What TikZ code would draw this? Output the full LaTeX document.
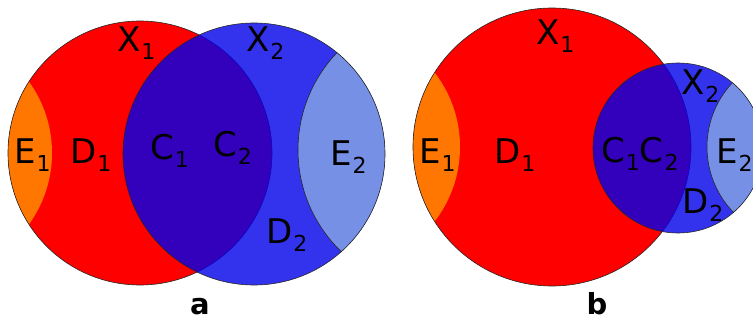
\documentclass[tikz,border=0pt]{standalone}
\usepackage{fontspec}
\setmainfont{DejaVu Sans}
\usetikzlibrary{positioning}
\definecolor{setred}{RGB}{255,0,0}
\definecolor{setorange}{RGB}{255,119,0}
\definecolor{setblue}{RGB}{0,0,234}
\definecolor{setpale}{RGB}{117,144,229}
\newcommand{\sublbl}[2]{#1\kern1pt\raisebox{-8pt}{\fontsize{22}{22}\selectfont #2}}

\begin{document}
\begin{tikzpicture}[x=1pt, y=-1pt,
        rim/.style={draw=black!85, line width=0.6pt},
        lab/.style={anchor=base west, inner sep=0pt, font=\fontsize{34}{40}\selectfont},
        caption/.style={anchor=base, inner sep=0pt, font=\fontsize{29}{34}\selectfont\bfseries}
    ]
    \useasboundingbox (0,0) rectangle (753,321);
    \clip (0,0) rectangle (753,321);

    % panel a
    \fill[setred] (140,153) circle (132pt);
    \begin{scope}
        \clip (140,153) circle (132pt);
        \fill[setorange] (-70,153) circle (122pt);
    \end{scope}
    \draw[rim] (140,153) circle (132pt);
    \fill[setblue, fill opacity=0.8] (254,154) circle (131pt);
    \begin{scope}
        \clip (254,154) circle (131pt);
        \fill[setpale] (439,150) circle (141pt);
        \draw[rim] (439,150) circle (141pt);
    \end{scope}
    \draw[rim] (254,154) circle (131pt);

    \node[lab] (xa1) at (117,52) {\sublbl{X}{1}};
    \node[lab] (xa2) at (246,52) {\sublbl{X}{2}};
    \node[lab] (ea1) at (14,163) {\sublbl{E}{1}};
    \node[lab] (da1) at (70,163) {\sublbl{D}{1}};
    \node[lab] (ca1) at (150,159) {\sublbl{C}{1}};
    \node[lab] (ca2) at (213,157) {\sublbl{C}{2}};
    \node[lab] (ea2) at (330,165) {\sublbl{E}{2}};
    \node[lab] (da2) at (266,243) {\sublbl{D}{2}};
    \node[caption] (capa) at (200,314) {a};

    % panel b
    \fill[setred] (552,147) circle (139pt);
    \begin{scope}
        \clip (552,147) circle (139pt);
        \fill[setorange] (338,147) circle (122pt);
    \end{scope}
    \draw[rim] (552,147) circle (139pt);
    \fill[setblue, fill opacity=0.8] (678,148) circle (85pt);
    \begin{scope}
        \clip (678,148) circle (85pt);
        \fill[setpale] (801,147) circle (94pt);
        \draw[rim] (801,147) circle (94pt);
    \end{scope}
    \draw[rim] (678,148) circle (85pt);

    \node[lab] (xb1) at (536,45) {\sublbl{X}{1}};
    \node[lab] (eb1) at (419,163) {\sublbl{E}{1}};
    \node[lab] (db1) at (494,163) {\sublbl{D}{1}};
    \node[lab] (cb12) at (601,162) {\sublbl{C}{1}\sublbl{C}{2}};
    \node[lab] (xb2) at (681,95) {\sublbl{X}{2}};
    \node[lab] (eb2) at (716,163) {\sublbl{E}{2}};
    \node[lab] (db2) at (682,213) {\sublbl{D}{2}};
    \node[caption] (capb) at (597,314) {b};

\end{tikzpicture}
\end{document}
